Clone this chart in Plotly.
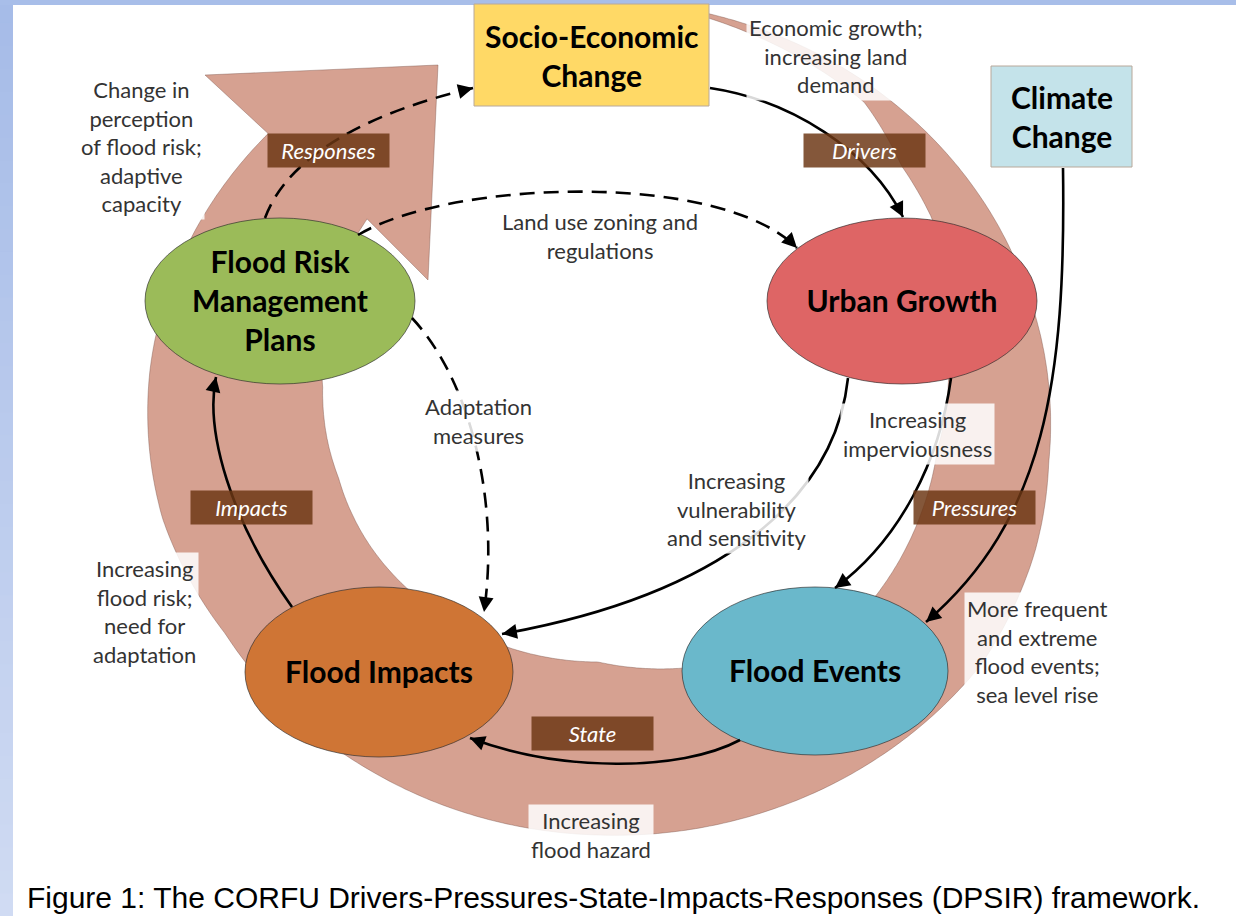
import numpy as np
import plotly.graph_objects as go

W, H = 1236, 916

# ---------------- rectangular driver boxes ----------------
box_labels = ["Socio-Economic<br>Change", "Climate<br>Change"]
box_left = [474, 991]
box_right = [709, 1132]
box_top = [4, 66]
box_bottom = [106, 167]
box_colors = ["#FFD966", "#C4E3EA"]

# ---------------- elliptical DPSIR nodes ----------------
node_labels = ["Flood Risk<br>Management<br>Plans", "Urban Growth", "Flood Impacts", "Flood Events"]
node_cx = [280, 902, 379, 815]
node_cy = [301, 301, 672, 671]
node_rx = [135, 135, 134, 133]
node_ry = [83, 83, 85, 84]
node_colors = ["#9BBB59", "#DE6565", "#CF7535", "#6AB8CB"]

# ---------------- DPSIR stage tags ----------------
stage_labels = ["Drivers", "Pressures", "State", "Impacts", "Responses"]
stage_x = [864, 974, 592, 251, 328]
stage_y = [150, 507, 733, 507, 150]

# ---------------- explanatory notes ----------------
note_labels = [
    "Change in<br>perception<br>of flood risk;<br>adaptive<br>capacity",
    "Economic growth;<br>increasing land<br>demand",
    "Land use zoning and<br>regulations",
    "Adaptation<br>measures",
    "Increasing<br>imperviousness",
    "Increasing<br>vulnerability<br>and sensitivity",
    "Increasing<br>flood risk;<br>need for<br>adaptation",
    "More frequent<br>and extreme<br>flood events;<br>sea level rise",
    "Increasing<br>flood hazard",
]
note_x = [141, 836, 600, 478, 917, 736, 144, 1037, 591]
note_y = [146, 56, 236, 421, 434, 509, 611, 651, 835]

# ---------------- connections (cubic Bezier control points) ----------------
link_names = ["drivers", "climate", "pressures", "vulnerability", "state",
              "impacts", "responses", "land use", "adaptation"]
link_ctrl = [
    [710, 88, 790, 100, 870, 150, 903, 217],
    [1063, 168, 1066, 380, 1045, 520, 926, 622],
    [951, 378, 940, 460, 900, 540, 835, 588],
    [848, 378, 835, 500, 720, 595, 502, 634],
    [740, 740, 680, 772, 560, 772, 470, 738],
    [292, 607, 230, 520, 205, 430, 216, 377],
    [265, 218, 290, 150, 380, 110, 473, 88],
    [358, 235, 450, 180, 720, 170, 797, 248],
    [412, 318, 470, 380, 500, 500, 484, 612],
]
link_dashed = [False, False, False, False, False, False, True, True, True]

# ---------------- big circular DPSIR arrow ----------------
ring_cx, ring_cy, ring_rx, ring_ry = 598, 418, 451, 417
ring_theta = [12, 20, 38, 48, 57, 75, 96, 108, 125, 150, 180, 210, 238, 256, 277, 313]
ring_outer = [1.0, 1.0, 1.0, 1.0, 1.0, 1.0, 1.005, 1.02, 1.035, 1.02, 1.0, 0.985, 0.975, 0.995, 1.0, 1.0]
ring_inner = [0.993, 0.982, 0.96, 0.905, 0.882, 0.80, 0.756, 0.752, 0.749, 0.66, 0.585, 0.585, 0.591, 0.593, 0.615, 0.70]
head_x = [205, 438, 428]
head_y = [75, 65, 280]

caption = "Figure 1: The CORFU Drivers-Pressures-State-Impacts-Responses (DPSIR) framework."

FONT = "Lato, 'Open Sans', sans-serif"

shapes = []
annotations = []

# blue page border (left strip with vertical gradient + top strip)
n_strip = 40
c_top = np.array([166, 188, 232])
c_bot = np.array([208, 219, 243])
for i in range(n_strip):
    f = i / (n_strip - 1)
    c = (c_top * (1 - f) + c_bot * f).astype(int)
    shapes.append(dict(type="rect", xref="x", yref="y", layer="below",
                       x0=0, x1=13, y0=i * H / n_strip, y1=(i + 1) * H / n_strip + 1,
                       fillcolor=f"rgb({c[0]},{c[1]},{c[2]})", line=dict(width=0)))
shapes.append(dict(type="rect", xref="x", yref="y", layer="below", x0=0, x1=W, y0=0, y1=5,
                   fillcolor="rgb(168,190,233)", line=dict(width=0)))

# ring arrow path
t = np.linspace(ring_theta[0], ring_theta[-1], 500)
so = np.interp(t, ring_theta, ring_outer)
si = np.interp(t, ring_theta, ring_inner)
tr = np.radians(t)
ox = ring_cx + ring_rx * so * np.sin(tr)
oy = ring_cy - ring_ry * so * np.cos(tr)
ix = ring_cx + ring_rx * si * np.sin(tr)
iy = ring_cy - ring_ry * si * np.cos(tr)
pts = [(x, y) for x, y in zip(ox, oy)]
pts += list(zip(head_x, head_y))
pts += [(x, y) for x, y in zip(ix[::-1], iy[::-1])]
path = "M " + " L ".join(f"{x:.1f},{y:.1f}" for x, y in pts) + " Z"
shapes.append(dict(type="path", xref="x", yref="y", layer="below", path=path,
                   fillcolor="#D6A191", line=dict(color="rgba(120,80,70,0.5)", width=0.8)))

# boxes
for i in range(len(box_labels)):
    shapes.append(dict(type="rect", xref="x", yref="y", layer="below",
                       x0=box_left[i], x1=box_right[i], y0=box_top[i], y1=box_bottom[i],
                       fillcolor=box_colors[i], line=dict(color="#B8A89A", width=1)))

# ellipses
for i in range(len(node_labels)):
    shapes.append(dict(type="circle", xref="x", yref="y", layer="below",
                       x0=node_cx[i] - node_rx[i], x1=node_cx[i] + node_rx[i],
                       y0=node_cy[i] - node_ry[i], y1=node_cy[i] + node_ry[i],
                       fillcolor=node_colors[i], line=dict(color="rgba(40,40,40,0.8)", width=0.8)))

# connection curves
for c, dashed in zip(link_ctrl, link_dashed):
    p = f"M {c[0]},{c[1]} C {c[2]},{c[3]} {c[4]},{c[5]} {c[6]},{c[7]}"
    shapes.append(dict(type="path", xref="x", yref="y", layer="above", path=p,
                       line=dict(color="black", width=2.6, dash="15px,9px" if dashed else "solid")))
    # arrowhead at the end, oriented along the final tangent
    dx, dy = c[6] - c[4], c[7] - c[5]
    L = np.hypot(dx, dy)
    tx, ty = c[6] - dx / L * 14, c[7] - dy / L * 14
    annotations.append(dict(x=c[6], y=c[7], ax=tx, ay=ty, xref="x", yref="y", axref="x", ayref="y",
                            text="", showarrow=True, arrowhead=2, arrowsize=1.15,
                            arrowwidth=2.6, arrowcolor="black"))

# box texts
for i in range(len(box_labels)):
    annotations.append(dict(x=(box_left[i] + box_right[i]) / 2, y=(box_top[i] + box_bottom[i]) / 2,
                            xref="x", yref="y", text=f"<b>{box_labels[i]}</b>", showarrow=False,
                            font=dict(family=FONT, size=30, color="black")))

# stage tags
for i in range(len(stage_labels)):
    annotations.append(dict(x=stage_x[i], y=stage_y[i], xref="x", yref="y",
                            text=f"<i>{stage_labels[i]}</i>", showarrow=False,
                            width=121, height=33, borderpad=0,
                            bgcolor="rgba(108,55,20,0.84)",
                            font=dict(family=FONT, size=22, color="white")))

# notes
for i in range(len(note_labels)):
    annotations.append(dict(x=note_x[i], y=note_y[i], xref="x", yref="y",
                            text=note_labels[i], showarrow=False, borderpad=2,
                            bgcolor="rgba(255,255,255,0.85)",
                            font=dict(family=FONT, size=22, color="#333333")))

# caption
annotations.append(dict(x=25, y=897, xref="x", yref="y", xanchor="left", text=caption,
                        showarrow=False, font=dict(family="'Liberation Sans', Arial, sans-serif",
                                                   size=30, color="black")))

fig = go.Figure()
# node labels as a text trace
fig.add_trace(go.Scatter(x=node_cx, y=[v + 3 for v in node_cy], mode="text",
                         text=[f"<b>{s}</b>" for s in node_labels],
                         textfont=dict(family=FONT, size=30, color="black"),
                         hoverinfo="skip", showlegend=False))

fig.update_layout(
    width=W, height=H, margin=dict(l=0, r=0, t=0, b=0),
    paper_bgcolor="white", plot_bgcolor="white",
    xaxis=dict(range=[0, W], visible=False, fixedrange=True),
    yaxis=dict(range=[H, 0], visible=False, fixedrange=True),
    shapes=shapes, annotations=annotations, showlegend=False,
)
fig.write_html("out.html", config={"displayModeBar": False},
               post_script="document.body.style.margin='0';document.body.style.overflow='hidden';")
